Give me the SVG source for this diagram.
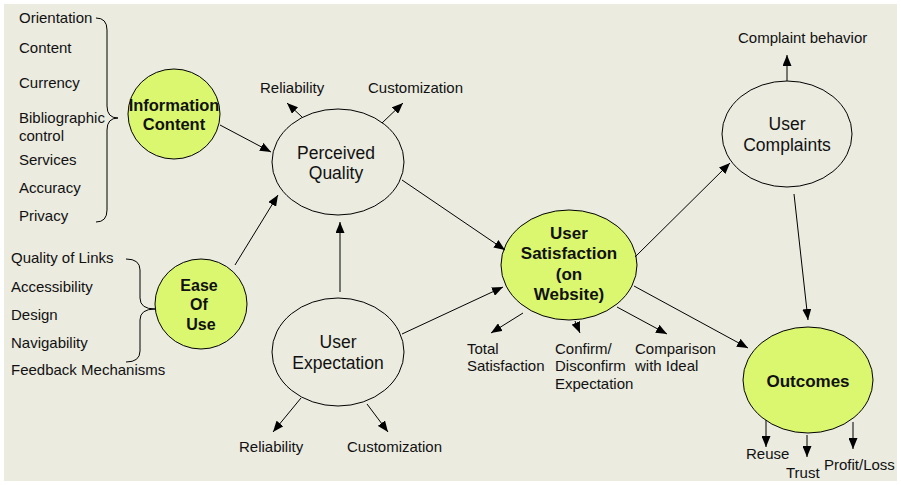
<svg xmlns="http://www.w3.org/2000/svg" width="901" height="485" viewBox="0 0 901 485">
<defs>
<marker id="ah" markerUnits="userSpaceOnUse" markerWidth="11" markerHeight="9" refX="11" refY="4.5" orient="auto"><path d="M0,0 L11,4.5 L0,9 z" fill="#000"/></marker>
<style>
text{font-family:"Liberation Sans",Arial,sans-serif;fill:#111}
.lbl{font-size:15px}
.nd{font-size:17.5px;text-anchor:middle}
.bd{font-size:17px;font-weight:bold;text-anchor:middle}
.el{fill:none;stroke:#000;stroke-width:1}
.gr{fill:#DAF76F;stroke:#000;stroke-width:1}
.cn line,.cn path{stroke:#000;stroke-width:1;fill:none}
.cn line{marker-end:url(#ah)}
</style>
</defs>
<rect x="0" y="0" width="901" height="485" fill="#fff"/>
<rect x="4" y="4" width="893" height="477" fill="#EBEBE0"/>

<g id="info-list">
<text class="lbl" x="19" y="23">Orientation</text>
<text class="lbl" x="19" y="53">Content</text>
<text class="lbl" x="19" y="88">Currency</text>
<text class="lbl" x="19" y="123">Bibliographic</text>
<text class="lbl" x="19" y="141">control</text>
<text class="lbl" x="19" y="165">Services</text>
<text class="lbl" x="19" y="193">Accuracy</text>
<text class="lbl" x="19" y="221">Privacy</text>
</g>
<g id="ease-list">
<text class="lbl" x="11" y="263">Quality of Links</text>
<text class="lbl" x="11" y="292">Accessibility</text>
<text class="lbl" x="11" y="320">Design</text>
<text class="lbl" x="11" y="348">Navigability</text>
<text class="lbl" x="11" y="375">Feedback Mechanisms</text>
</g>

<g id="information-content">
<ellipse class="gr" cx="174" cy="114" rx="46" ry="45"/>
<text class="bd" x="174" y="111" style="font-size:16.5px">Information</text>
<text class="bd" x="174" y="130" style="font-size:16.5px">Content</text>
</g>
<g id="ease-of-use">
<ellipse class="gr" cx="201" cy="304" rx="46" ry="45"/>
<text class="bd" x="199" y="291" style="font-size:16px">Ease</text>
<text class="bd" x="199" y="310" style="font-size:16px">Of</text>
<text class="bd" x="201" y="330" style="font-size:16px">Use</text>
</g>
<g id="perceived-quality">
<ellipse class="el" cx="338" cy="162" rx="66" ry="53"/>
<text class="nd" x="336" y="159">Perceived</text>
<text class="nd" x="336" y="179">Quality</text>
</g>
<g id="user-expectation">
<ellipse class="el" cx="338" cy="352" rx="66" ry="54"/>
<text class="nd" x="338" y="348">User</text>
<text class="nd" x="338" y="369">Expectation</text>
</g>
<g id="user-satisfaction">
<ellipse class="gr" cx="569" cy="265" rx="68" ry="55"/>
<text class="bd" x="569" y="239">User</text>
<text class="bd" x="569" y="259">Satisfaction</text>
<text class="bd" x="569" y="280">(on</text>
<text class="bd" x="569" y="300">Website)</text>
</g>
<g id="user-complaints">
<ellipse class="el" cx="787" cy="134" rx="65" ry="53"/>
<text class="nd" x="787" y="130">User</text>
<text class="nd" x="787" y="151">Complaints</text>
</g>
<g id="outcomes">
<ellipse class="gr" cx="808" cy="380" rx="65" ry="53"/>
<text class="bd" x="808" y="387">Outcomes</text>
</g>

<g id="labels">
<text class="lbl" x="260" y="93">Reliability</text>
<text class="lbl" x="368" y="93">Customization</text>
<text class="lbl" x="239" y="452">Reliability</text>
<text class="lbl" x="347" y="452">Customization</text>
<text class="lbl" x="467" y="354">Total</text>
<text class="lbl" x="467" y="371">Satisfaction</text>
<text class="lbl" x="555" y="354">Confirm/</text>
<text class="lbl" x="555" y="371">Disconfirm</text>
<text class="lbl" x="555" y="389">Expectation</text>
<text class="lbl" x="635" y="354">Comparison</text>
<text class="lbl" x="635" y="371">with Ideal</text>
<text class="lbl" x="738" y="43">Complaint behavior</text>
<text class="lbl" x="746" y="459">Reuse</text>
<text class="lbl" x="786" y="478">Trust</text>
<text class="lbl" x="824" y="470">Profit/Loss</text>
</g>

<g id="connectors" class="cn">
<path d="M96,18 Q107,18 107,30 L107,106 Q107,118 118,118 Q107,118 107,130 L107,210 Q107,222 96,222"/>
<path d="M126,259 Q140,259 140,270 L140,298 Q140,309 155,309 Q140,309 140,320 L140,351 Q140,362 126,362"/>
<line x1="220" y1="125" x2="271" y2="152"/>
<line x1="235" y1="265" x2="278" y2="195"/>
<line x1="340" y1="292" x2="340" y2="222"/>
<line x1="302" y1="117" x2="287" y2="103"/>
<line x1="382" y1="123" x2="403" y2="103"/>
<line x1="402" y1="180" x2="505" y2="250"/>
<line x1="402" y1="334" x2="503" y2="287"/>
<line x1="301" y1="398" x2="273" y2="432"/>
<line x1="367" y1="404" x2="388" y2="432"/>
<line x1="523" y1="313" x2="491" y2="333"/>
<line x1="575" y1="321" x2="580" y2="333"/>
<line x1="617" y1="307" x2="667" y2="334"/>
<line x1="634" y1="286" x2="748" y2="348"/>
<line x1="635" y1="257" x2="730" y2="163"/>
<line x1="787" y1="81" x2="787" y2="55"/>
<line x1="794" y1="194" x2="808" y2="320"/>
<line x1="766" y1="420" x2="766" y2="447"/>
<line x1="807" y1="435" x2="807" y2="457"/>
<line x1="853" y1="422" x2="853" y2="449"/>
</g>
</svg>
